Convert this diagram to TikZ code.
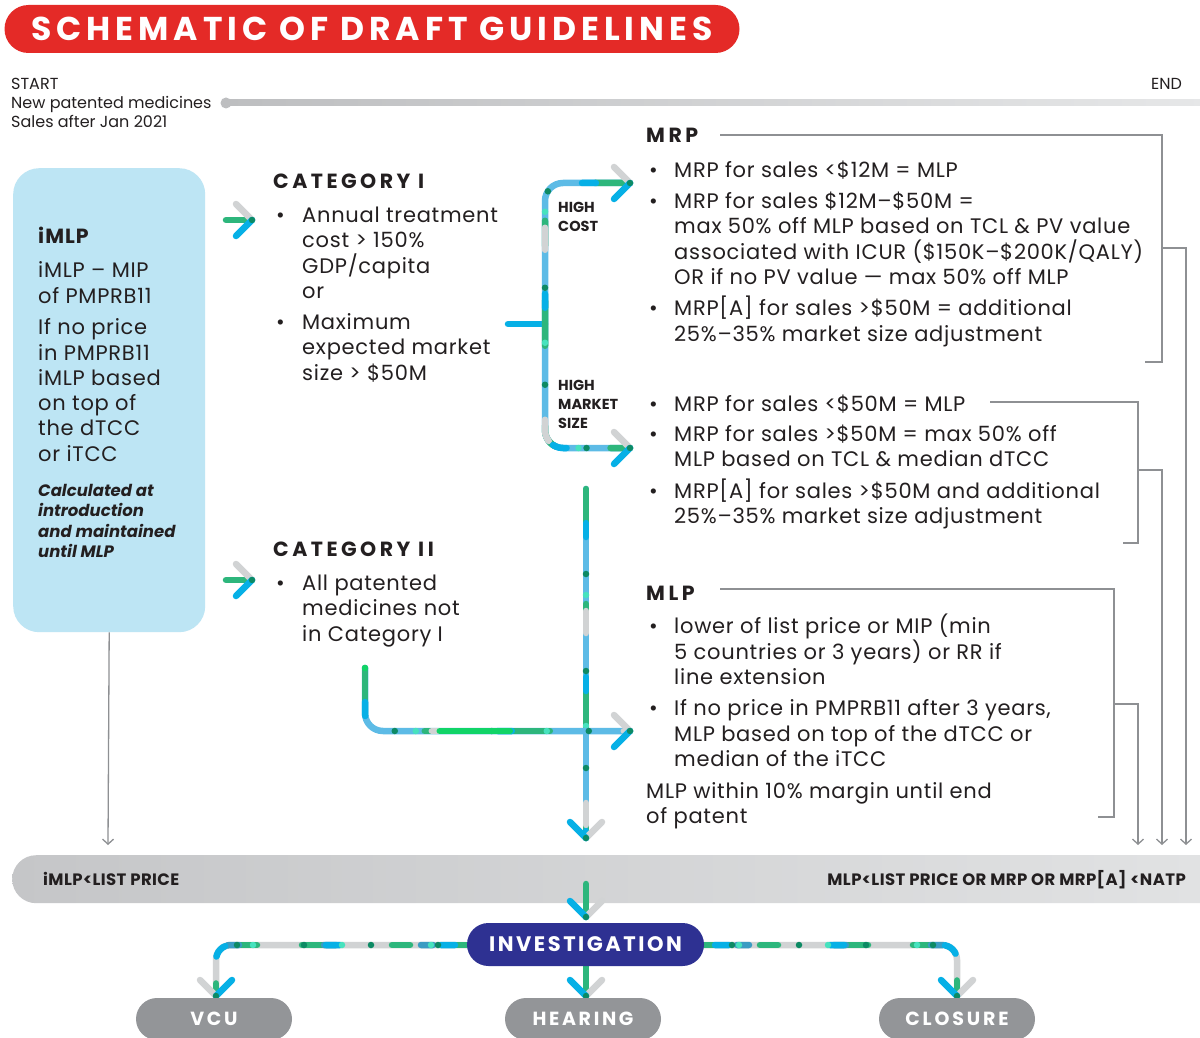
\documentclass[tikz,border=0pt]{standalone}
\usepackage{fontspec}
\setmainfont{Poppins}
\usetikzlibrary{arrows.meta}
\definecolor{tred}{HTML}{E42A27}
\definecolor{boxblue}{HTML}{BDE5F4}
\definecolor{navy}{HTML}{2E3192}
\definecolor{pillgrey}{HTML}{939598}
\definecolor{conngrey}{HTML}{8E9093}
\definecolor{textc}{HTML}{231F20}
\definecolor{mblue}{HTML}{5DBBE6}
\definecolor{mgreen}{HTML}{2DB67C}
\definecolor{mdk}{HTML}{0D8A64}
\definecolor{mteal}{HTML}{47E2BE}
\definecolor{mgrey}{HTML}{D1D3D4}
\definecolor{mcyan}{HTML}{06B0E6}
\definecolor{mbright}{HTML}{11D467}
\definecolor{msteel}{HTML}{3A9CC3}
\definecolor{barL}{HTML}{C5C6C8}
\definecolor{barR}{HTML}{E2E3E4}
\definecolor{tlL}{HTML}{BDBEC0}
\definecolor{tlR}{HTML}{E6E7E8}
\tikzset{
  body/.style={font=\fontsize{21}{24}\selectfont\addfontfeature{LetterSpace=3.5}, inner sep=0pt, text height=14.6pt, text depth=0pt, anchor=west, text=textc},
  smallt/.style={font=\fontsize{16}{18}\selectfont, inner sep=0pt, text height=11pt, text depth=0pt, anchor=west, text=textc},
  hd/.style={font=\fontsize{20.5}{24}\selectfont\bfseries\addfontfeature{LetterSpace=17}, inner sep=0pt, text height=14.4pt, text depth=0pt, anchor=west, text=textc},
  lbl/.style={font=\fontsize{14.5}{18}\selectfont\bfseries, inner sep=0pt, text height=10.2pt, text depth=0pt, anchor=west, text=textc},
  itsm/.style={font=\fontsize{16.5}{20}\selectfont\bfseries\itshape, inner sep=0pt, text height=11.5pt, text depth=0pt, anchor=west, text=textc},
  bart/.style={font=\fontsize{16.5}{18}\selectfont\bfseries\addfontfeature{LetterSpace=2.5}, inner sep=0pt, text height=11.5pt, text depth=0pt, anchor=west, text=textc},
  pilltext/.style={text=white, inner sep=0pt, text height=13.5pt, text depth=0pt},
  conn/.style={draw=conngrey, line width=1.3pt},
  connarrow/.style={conn, -{Straight Barb[length=5pt,width=11pt]}},
  chev/.style={line width=6.5pt, line cap=round},
  metro/.style={line width=6.5pt, line cap=round, draw=mblue, rounded corners=18pt,
    postaction={draw=mgreen, dash pattern=on 45pt off 80pt on 25pt off 55pt, dash phase=10pt},
    postaction={draw=mgrey, dash pattern=on 22pt off 170pt, dash phase=70pt},
    postaction={draw=mcyan, dash pattern=on 14pt off 140pt, dash phase=120pt},
    postaction={draw=mteal, dash pattern=on 0pt off 131pt, dash phase=25pt},
    postaction={draw=mdk, dash pattern=on 0pt off 97pt, dash phase=12pt}},
  metroG/.style={line width=6.5pt, line cap=round, draw=mgrey, rounded corners=15pt,
    postaction={draw=mgreen, dash pattern=on 35pt off 45pt on 18pt off 55pt, dash phase=0pt},
    postaction={draw=msteel, dash pattern=on 12pt off 85pt, dash phase=40pt},
    postaction={draw=mcyan, dash pattern=on 14pt off 101pt, dash phase=80pt},
    postaction={draw=mdk, dash pattern=on 0pt off 67pt, dash phase=15pt},
    postaction={draw=mteal, dash pattern=on 0pt off 89pt, dash phase=30pt}},
  chevR/.pic={\draw[chev, mgrey] (-16,-16) -- (0,0); \draw[chev, mcyan] (0,0) -- (-16,16); \fill[mdk] (0,0) circle[radius=3.2];},
  chevD/.pic={\draw[chev, mgrey] (16,-16) -- (0,0); \draw[chev, mcyan] (-16,-16) -- (0,0); \fill[mdk] (0,0) circle[radius=3.2];},
  chevDg/.pic={\draw[chev, mgrey] (-16,-16) -- (0,0); \draw[chev, mcyan] (16,-16) -- (0,0); \fill[mdk] (0,0) circle[radius=3.2];},
}
\begin{document}
\begin{tikzpicture}[x=1pt,y=-1pt]
\useasboundingbox (0,0) rectangle (1200,1038);
\clip (0,0) rectangle (1200,1038);
\fill[white] (0,0) rectangle (1200,1038);

% title
\node[fill=tred, rounded corners=24pt, minimum width=735pt, minimum height=48pt, inner sep=0pt, text=white,
  font=\fontsize{33}{33}\selectfont\bfseries\addfontfeature{LetterSpace=15}] (title) at (372,29) {SCHEMATIC OF DRAFT GUIDELINES};

% timeline
\shade[left color=tlL, right color=tlR] (226,100) rectangle (1205,106);
\node[circle, fill=tlL, minimum size=11pt, inner sep=0pt] (startdot) at (226,103) {};
\node[smallt] (start1) at (11,84) {START};
\node[smallt] (start2) at (11,103) {New patented medicines};
\node[smallt] (start3) at (11,122) {Sales after Jan 2021};
\node[smallt, anchor=east] (endt) at (1182,84) {END};

% iMLP box
\node[fill=boxblue, rounded corners=26pt, minimum width=192pt, minimum height=464pt, inner sep=0pt, anchor=north west] (imlpbox) at (13,168) {};
\node[hd, font=\fontsize{20.5}{24}\selectfont\bfseries\addfontfeature{LetterSpace=5}] (imlph) at (38,236) {iMLP};
\node[body] (im1) at (38,270) {iMLP – MIP};
\node[body] (im2) at (38,296) {of PMPRB11};
\node[body] (im3) at (38,327) {If no price};
\node[body] (im4) at (38,353) {in PMPRB11};
\node[body] (im5) at (38,378) {iMLP based};
\node[body] (im6) at (38,403) {on top of};
\node[body] (im7) at (38,428) {the dTCC};
\node[body] (im8) at (38,454) {or iTCC};
\node[itsm] (it1) at (38,491) {Calculated at};
\node[itsm] (it2) at (38,511) {introduction};
\node[itsm] (it3) at (38,532) {and maintained};
\node[itsm] (it4) at (38,552) {until MLP};

% category I
\node[hd] (cat1) at (273,181) {CATEGORY I};
\node[body] (c1b1) at (276,215) {•};
\node[body] (c1l1) at (302,215) {Annual treatment};
\node[body] (c1l2) at (302,240) {cost > 150\%};
\node[body] (c1l3) at (302,266) {GDP/capita};
\node[body] (c1l4) at (302,291) {or};
\node[body] (c1b2) at (276,322) {•};
\node[body] (c1l5) at (302,322) {Maximum};
\node[body] (c1l6) at (302,347) {expected market};
\node[body] (c1l7) at (302,373) {size > \$50M};

% category II
\node[hd] (cat2) at (273,549) {CATEGORY II};
\node[body] (c2b1) at (276,583) {•};
\node[body] (c2l1) at (302,583) {All patented};
\node[body] (c2l2) at (302,608) {medicines not};
\node[body] (c2l3) at (302,634) {in Category I};

% entry chevrons
\coordinate (e1a) at (226,220); \coordinate (e1t) at (252,220);
\draw[chev, mgreen] (e1a) -- (e1t); \pic at (e1t) {chevR};
\coordinate (e2a) at (226,580); \coordinate (e2t) at (252,580);
\draw[chev, mgreen] (e2a) -- (e2t); \pic at (e2t) {chevR};

% bracket
\coordinate (stubL) at (508,324); \coordinate (brX) at (545,324);
\coordinate (brT) at (630,183); \coordinate (brB) at (630,448);
\draw[chev, mcyan] (stubL) -- (brX);
\draw[metro] (brT) -| (brX) |- (brB);
\pic at (brT) {chevR};
\pic at (brB) {chevR};
\node[lbl] (hc1) at (558,207) {HIGH};
\node[lbl] (hc2) at (558,226) {COST};
\node[lbl] (hm1) at (558,385) {HIGH};
\node[lbl] (hm2) at (558,404) {MARKET};
\node[lbl] (hm3) at (558,423) {SIZE};

% vertical main line and category II line
\coordinate (vmTop) at (586,489); \coordinate (vmTip) at (586,838);
\draw[metro] (vmTop) -- (vmTip);
\pic at (vmTip) {chevD};
\coordinate (c2Top) at (365,668); \coordinate (c2Tip) at (630,731);
\draw[metro, postaction={draw=mbright, dash pattern=on 0pt off 130pt on 70pt off 300pt}] (c2Top) |- (c2Tip);
\pic at (c2Tip) {chevR};

% MRP
\node[hd] (mrph) at (646,135) {MRP};
\node[body] (mb1) at (649,170) {•};
\node[body] (m1) at (674,170) {MRP for sales <\$12M = MLP};
\node[body] (mb2) at (649,201) {•};
\node[body] (m2) at (674,201) {MRP for sales \$12M–\$50M =};
\node[body] (m3) at (674,226) {max 50\% off MLP based on TCL \& PV value};
\node[body] (m4) at (674,252) {associated with ICUR (\$150K–\$200K/QALY)};
\node[body] (m5) at (674,277) {OR if no PV value — max 50\% off MLP};
\node[body] (mb3) at (649,308) {•};
\node[body] (m6) at (674,308) {MRP[A] for sales >\$50M = additional};
\node[body] (m7) at (674,334) {25\%–35\% market size adjustment};

\node[body] (nb1) at (649,404) {•};
\node[body] (n1) at (674,404) {MRP for sales <\$50M = MLP};
\node[body] (nb2) at (649,434) {•};
\node[body] (n2) at (674,434) {MRP for sales >\$50M = max 50\% off};
\node[body] (n3) at (674,459) {MLP based on TCL \& median dTCC};
\node[body] (nb3) at (649,491) {•};
\node[body] (n4) at (674,491) {MRP[A] for sales >\$50M and additional};
\node[body] (n5) at (674,516) {25\%–35\% market size adjustment};

% MLP
\node[hd] (mlph) at (646,593) {MLP};
\node[body] (lb1) at (649,626) {•};
\node[body] (l1) at (674,626) {lower of list price or MIP (min};
\node[body] (l2) at (674,652) {5 countries or 3 years) or RR if};
\node[body] (l3) at (674,677) {line extension};
\node[body] (lb2) at (649,708) {•};
\node[body] (l4) at (674,708) {If no price in PMPRB11 after 3 years,};
\node[body] (l5) at (674,734) {MLP based on top of the dTCC or};
\node[body] (l6) at (674,759) {median of the iTCC};
\node[body] (l7) at (646,791) {MLP within 10\% margin until end};
\node[body] (l8) at (646,816) {of patent};

% thin connectors
\coordinate (a1) at (720,135); \coordinate (a2) at (1162,362); \coordinate (a3) at (1145,362);
\draw[conn] (a1) -| (a2) -- (a3);
\coordinate (a4) at (1162,248); \coordinate (a5) at (1186,845);
\draw[connarrow] (a4) -| (a5);
\coordinate (b1) at (990,402); \coordinate (b2) at (1138,543); \coordinate (b3) at (1123,543);
\draw[conn] (b1) -| (b2) -- (b3);
\coordinate (b4) at (1138,470); \coordinate (b5) at (1162,845);
\draw[connarrow] (b4) -| (b5);
\coordinate (d1) at (720,589); \coordinate (d2) at (1114,817); \coordinate (d3) at (1098,817);
\draw[conn] (d1) -| (d2) -- (d3);
\coordinate (d4) at (1114,704); \coordinate (d5) at (1138,845);
\draw[connarrow] (d4) -| (d5);
\coordinate (imTip) at (108,845);
\draw[connarrow] (imlpbox.south) -- (imTip);

% bar
\node[left color=barL, right color=barR, rounded corners=24pt, minimum width=1230pt, minimum height=48pt, inner sep=0pt, anchor=north west] (bar) at (12,855) {};
\node[bart] (bt1) at (43,880) {iMLP<LIST PRICE};
\node[bart, anchor=east] (bt2) at (1186,880) {MLP<LIST PRICE OR MRP OR MRP[A] <NATP};

% investigation
\coordinate (invIn) at (586,884); \coordinate (invTip) at (586,917);
\draw[chev, mgreen] (invIn) -- (invTip);
\pic at (invTip) {chevD};
\coordinate (invL) at (490,945); \coordinate (invR) at (680,945); \coordinate (invS) at (586,955);
\coordinate (vcuTip) at (216,996); \coordinate (clTip) at (957,996); \coordinate (hrTip) at (586,996);
\draw[metroG] (invL) -| (vcuTip);
\draw[metroG] (invR) -| (clTip);
\draw[chev, mgreen] (invS) -- (hrTip);
\pic at (vcuTip) {chevDg};
\pic at (clTip) {chevD};
\pic at (hrTip) {chevD};
\node[fill=navy, rounded corners=21.5pt, minimum width=237pt, minimum height=43pt, pilltext,
  font=\fontsize{21}{21}\selectfont\bfseries\addfontfeature{LetterSpace=12}] (inv) at (585.5,944.5) {INVESTIGATION};

% outcomes
\node[fill=pillgrey, rounded corners=21pt, minimum width=156pt, minimum height=42pt, pilltext,
  font=\fontsize{19}{19}\selectfont\bfseries\addfontfeature{LetterSpace=14}] (vcu) at (214,1019) {VCU};
\node[fill=pillgrey, rounded corners=21pt, minimum width=156pt, minimum height=42pt, pilltext,
  font=\fontsize{19}{19}\selectfont\bfseries\addfontfeature{LetterSpace=14}] (hear) at (583,1019) {HEARING};
\node[fill=pillgrey, rounded corners=21pt, minimum width=156pt, minimum height=42pt, pilltext,
  font=\fontsize{19}{19}\selectfont\bfseries\addfontfeature{LetterSpace=15}] (clos) at (957,1019) {CLOSURE};
\end{tikzpicture}
\end{document}
